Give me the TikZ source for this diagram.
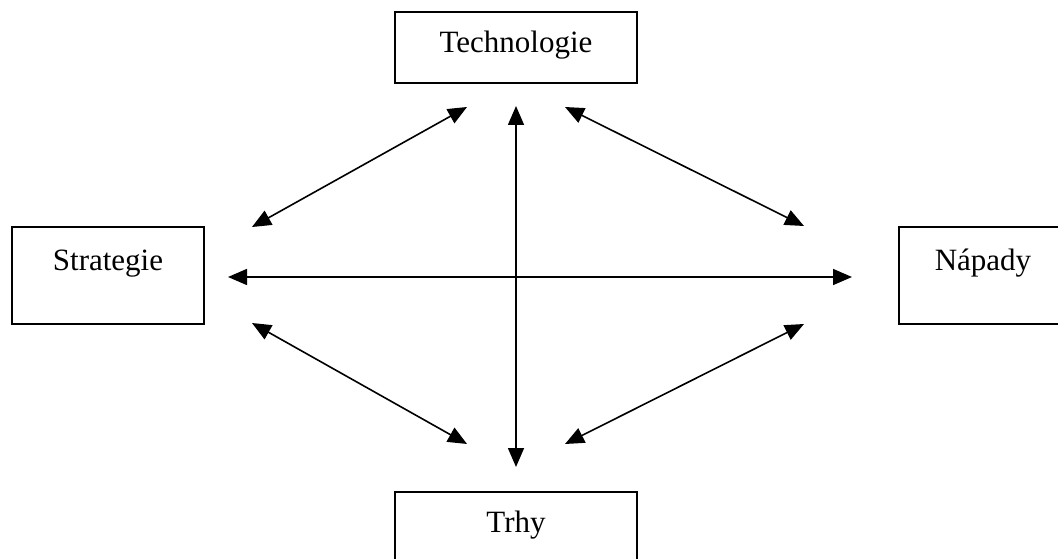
\documentclass[tikz,border=0pt]{standalone}
\usepackage{fontspec}
\setmainfont{Liberation Serif}
\usetikzlibrary{arrows.meta}
\begin{document}
\begin{tikzpicture}[x=1pt,y=-1pt,
  boxnode/.style={draw, line width=1.6pt, inner sep=0pt, font=\fontsize{31}{37}\selectfont},
  link/.style={line width=1.6pt, {Triangle[length=19pt,width=16pt]}-{Triangle[length=19pt,width=16pt]}}]
\useasboundingbox (0,0) rectangle (1058,559);
\clip (0,0) rectangle (1058,559);
\fill[white] (0,0) rectangle (1058,559);
\node[boxnode, minimum width=242pt, text height=41pt, text depth=30pt] (tech) at (516,47.5) {Technologie};
\node[boxnode, minimum width=192pt, text height=43pt, text depth=54pt] (strat) at (108,275.5) {Strategie};
\node[boxnode, minimum width=168pt, text height=43pt, text depth=54pt] (napady) at (983,275.5) {Nápady};
\node[boxnode, minimum width=242pt, text height=40pt, text depth=40pt] (trhy) at (516,532) {Trhy};
\coordinate (vt) at (516,106);
\coordinate (vb) at (516,467);
\coordinate (hl) at (228,277);
\coordinate (hr) at (852,277);
\coordinate (tl1) at (252,227);
\coordinate (tl2) at (467,107);
\coordinate (tr1) at (565,107);
\coordinate (tr2) at (804,226);
\coordinate (bl1) at (252,323);
\coordinate (bl2) at (467,444);
\coordinate (br1) at (565,444);
\coordinate (br2) at (804,324);
\draw[link] (vt) -- (vb);
\draw[link] (hl) -- (hr);
\draw[link] (tl1) -- (tl2);
\draw[link] (tr1) -- (tr2);
\draw[link] (bl1) -- (bl2);
\draw[link] (br1) -- (br2);
\end{tikzpicture}
\end{document}
